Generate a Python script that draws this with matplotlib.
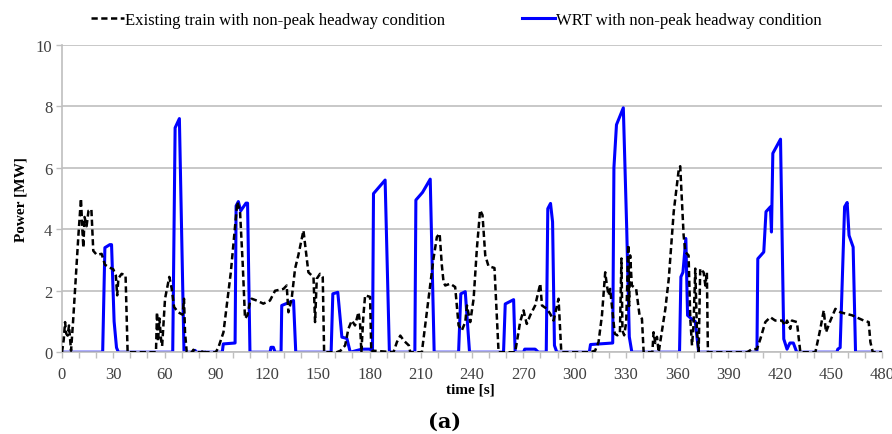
import numpy as np
import matplotlib.pyplot as plt
from matplotlib.ticker import MultipleLocator

# WRT with non-peak headway condition (time [s], power [MW])
wrt_t = [0, 23.8, 25.1, 28, 29, 30.5, 31.9, 33,
         64.8, 66.2, 68.7, 71.4, 77.2, 77.9, 78.6, 93.8, 94.4, 101.3, 101.9, 103.2, 104.6, 107.7, 108.6, 110,
         121.8, 122.3, 123.7, 124.7, 128.2, 128.6, 135.5, 136.8,
         157.5, 158.5, 161.4, 163.8, 166.7, 168.7, 175.5, 180.3, 181.7, 182.3, 189.1, 191.6,
         206.5, 207.1, 211, 215.5, 217.8,
         232.1, 233.4, 236, 238.5,
         258.4, 259.4, 264.3, 265.2, 270.1, 270.8, 276.9, 278.8,
         283.4, 284.3, 285.9, 287.1, 288.2, 289.6,
         308.6, 309.3, 322.3, 323, 324.5, 328.5, 330.5, 332, 333.5,
         361.4, 362.2, 363.4, 365.1, 366.1, 368.1, 370.6, 372.6,
         406.7, 407.2, 410.7, 412, 414.6, 415.2, 416, 420.5, 422.4, 424.3, 426, 428, 430,
         453.5, 454, 455.4, 458, 459.5, 460.6, 463, 464.4, 480]
wrt_p = [0, 0, 3.4, 3.5, 3.5, 1.0, 0.15, 0,
         0, 7.3, 7.6, 0, 0, 0.06, 0, 0, 0.27, 0.3, 4.76, 4.9, 4.6, 4.85, 4.85, 0,
         0, 0.16, 0.16, 0, 0, 1.52, 1.68, 0,
         0, 1.9, 1.95, 0.49, 0.45, 0, 0.1, 0.1, 0, 5.16, 5.6, 0,
         0, 4.95, 5.2, 5.63, 0,
         0, 1.9, 1.97, 0,
         0, 1.57, 1.71, 0, 0, 0.1, 0.1, 0,
         0, 4.67, 4.84, 4.24, 0.22, 0,
         0, 0.25, 0.3, 6.0, 7.4, 7.95, 4.0, 0.5, 0,
         0, 2.45, 2.6, 3.7, 1.2, 1.1, 1.0, 0,
         0, 3.04, 3.26, 4.57, 4.73, 3.91, 6.47, 6.93, 0.43, 0.1, 0.3, 0.3, 0,
         0, 0.1, 0.15, 4.73, 4.87, 3.8, 3.42, 0, 0]

# Existing train with non-peak headway condition
ext_t = [0, 1.0, 1.8, 2.5, 3.3, 4.1, 5.3, 6.6, 9.6, 11.1, 11.9, 12.5, 13.2, 14.4, 15.5, 17.2, 18.3,
         20.3, 23.2, 25.1, 27.1, 30.0, 31.5, 32.3, 33.0, 34.9, 37.2, 38.4,
         55.0, 55.6, 56.2, 57.0, 58.0, 58.6, 60.3, 62.8, 64.2, 65.6, 68.0, 70.6, 71.4, 72.0, 73.0,
         76.0, 76.9, 78.0, 82.0, 82.7, 83.5, 90.0, 91.5, 94.5, 96.4, 98.8, 101.3, 102.6, 104.2,
         105.8, 107.1, 108.5, 110.0, 111.0, 114.0, 117.8, 121.7, 124.7, 129.6, 131.5, 132.5, 134.4,
         136.4, 138.3, 141.3, 144.2, 147.2, 148.1, 149.1, 151.0, 152.6, 153.4,
         160.8, 163.0, 165.7, 167.6, 169.6, 171.5, 173.5, 174.4, 175.2, 176.4, 177.4, 180.3, 181.0,
         182.0, 194.0, 196.0, 198.0, 200.0, 203.0, 203.8,
         210.6, 214.5, 217.4, 219.4, 221.0, 222.3, 223.3, 224.3, 227.2, 230.1, 232.1, 234.0, 236.0,
         237.0, 238.9, 240.9, 242.8, 244.7, 246.1, 247.7, 249.6, 253.1, 255.5,
         265.2, 266.2, 268.1, 270.1, 272.0, 274.0, 276.9, 279.9, 280.9, 283.8, 285.7, 287.7, 290.6, 292.2,
         309.0, 312.0, 314.0, 316.0, 317.9, 318.9, 319.9, 320.8, 321.8, 323.5, 325.0, 326.5, 327.4, 328.0,
         329.0, 330.2, 331.4, 331.9, 332.5, 333.5, 336.0, 338.0, 339.4, 340.4,
         345.5, 346.2, 347.2, 348.2, 349.2, 353.1, 355.1, 358.0, 361.0, 361.8, 363.8, 364.8, 366.7,
         367.7, 368.7, 369.6, 370.6, 371.6, 372.6, 373.5, 375.5, 376.5, 377.4, 378.0,
         401.0, 403.8, 406.7, 408.7, 411.6, 414.5, 417.4, 421.3, 423.3, 424.3, 426.2, 427.2, 430.1, 432.1,
         440.9, 443.8, 445.8, 447.1, 449.7, 452.6, 455.5, 462.4, 469.2, 472.1, 473.1, 474.5, 480]
ext_p = [0, 0.4, 0.98, 0.6, 0.54, 0.87, 0.05, 1.1, 3.8, 5.0, 4.0, 3.4, 4.4, 4.1, 4.6, 4.65, 3.3,
         3.17, 3.2, 2.85, 2.77, 2.7, 2.5, 1.85, 2.4, 2.55, 2.5, 0,
         0, 1.3, 0.35, 1.1, 0.4, 0.2, 1.74, 2.45, 2.07, 1.47, 1.3, 1.22, 1.74, 0.65, 0,
         0, 0.08, 0, 0, 0.1, 0, 0, 0.15, 0.65, 1.52, 2.6, 4.13, 4.89, 4.57,
         2.83, 1.1, 1.2, 1.63, 1.74, 1.68, 1.58, 1.68, 2.0, 2.06, 2.17, 1.3, 1.74,
         2.72, 3.15, 3.96, 2.6, 2.44, 0.98, 2.39, 2.55, 2.44, 0,
         0, 0.05, 0.22, 0.76, 1.03, 0.87, 1.3, 0.98, 0, 1.2, 1.85, 1.8, 0,
         0.05, 0, 0.33, 0.54, 0.38, 0.22, 0,
         0, 1.74, 3.04, 3.75, 3.86, 2.83, 2.28, 2.17, 2.23, 2.12, 0.87, 0.71, 0.98,
         1.52, 0.98, 1.74, 3.37, 4.62, 4.46, 3.15, 2.8, 2.74, 0,
         0, 0.33, 0.98, 1.36, 0.92, 1.2, 1.52, 2.23, 1.52, 1.41, 1.25, 1.03, 1.74, 0,
         0, 0.05, 0.33, 1.2, 2.6, 2.17, 1.85, 2.06, 1.52, 0.6, 0.55, 0.6, 3.05, 0.7,
         0.55, 0.98, 3.5, 1.5, 3.15, 2.17, 2.06, 1.2, 1.09, 0,
         0, 0.65, 0.3, 0.5, 0, 1.41, 2.39, 4.57, 5.97, 6.05, 3.8, 3.26, 3.15,
         1.09, 0.22, 0.87, 2.72, 0.65, 0, 2.72, 2.6, 2.17, 2.6, 0,
         0, 0.1, 0.1, 0.43, 0.98, 1.14, 1.03, 1.03, 0.87, 1.03, 0.76, 1.03, 0.98, 0,
         0, 0.76, 1.36, 0.65, 1.03, 1.41, 1.3, 1.2, 1.03, 0.98, 0.33, 0, 0]

x_ticks = np.arange(0, 481, 30)
y_ticks = np.arange(0, 11, 2)

plt.rcParams['font.family'] = ['Liberation Serif', 'DejaVu Serif']

fig = plt.figure(figsize=(8.92, 4.35), dpi=100)
ax = fig.add_axes([0.0695, 0.188, 0.9195, 0.7067])

grey = '#bfbfbf'
ax.plot(ext_t, ext_p, color='black', lw=1.8, linestyle=(0, (2.5, 1.4)),
        label='Existing train with non-peak headway condition', zorder=3)
ax.plot(wrt_t, wrt_p, color='#0000ff', lw=2.2,
        label='WRT with non-peak headway condition', zorder=2)

ax.set_xlim(0, 480)
ax.set_ylim(0, 10)
ax.set_xticks(x_ticks)
ax.xaxis.set_minor_locator(MultipleLocator(10))
ax.set_yticks(y_ticks)
ax.yaxis.grid(True, color=grey, lw=1.2)
ax.set_axisbelow(True)

for s in ['top', 'right']:
    ax.spines[s].set_visible(False)
for s in ['left', 'bottom']:
    ax.spines[s].set_color(grey)
    ax.spines[s].set_linewidth(1.2)

ax.tick_params(axis='both', which='both', color=grey, width=1.0, length=4,
               labelsize=12, labelcolor='#404040')
ax.tick_params(axis='x', pad=6)
ax.tick_params(axis='y', pad=3)

ax.set_ylabel('Power [MW]', fontsize=11, fontweight='bold', labelpad=6)
fig.text(470 / 892, 1 - 390 / 435, 'time [s]', ha='center', va='center',
         fontsize=11, fontweight='bold')

fig.legend(loc='center', bbox_to_anchor=(456 / 892, 0.952), ncol=2, frameon=False,
           fontsize=12, handlelength=2.0, handletextpad=0.05, columnspacing=4.6)

fig.text(445 / 892, 1 - 422 / 435, '(a)', ha='center', va='center',
         fontsize=15, fontweight='bold', family=['DejaVu Serif'])

fig.savefig('out.png', dpi=100)
